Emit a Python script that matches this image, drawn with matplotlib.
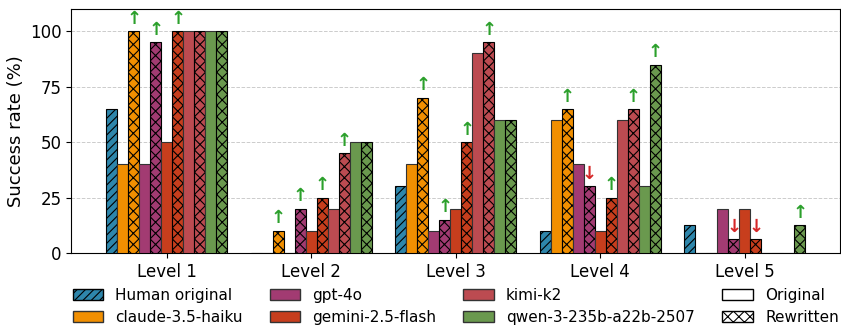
import numpy as np
import matplotlib.pyplot as plt
from matplotlib.patches import Patch

levels = ["Level 1", "Level 2", "Level 3", "Level 4", "Level 5"]
human = [65, 0, 30, 10, 12.5]

models = ["claude-3.5-haiku", "gpt-4o", "gemini-2.5-flash", "kimi-k2", "qwen-3-235b-a22b-2507"]
original = {
    "claude-3.5-haiku": [40, 0, 40, 60, 0],
    "gpt-4o": [40, 0, 10, 40, 20],
    "gemini-2.5-flash": [50, 10, 20, 10, 20],
    "kimi-k2": [100, 20, 90, 60, 0],
    "qwen-3-235b-a22b-2507": [100, 50, 60, 30, 0],
}
rewritten = {
    "claude-3.5-haiku": [100, 10, 70, 65, 0],
    "gpt-4o": [95, 20, 15, 30, 6.25],
    "gemini-2.5-flash": [100, 25, 50, 25, 6.25],
    "kimi-k2": [100, 45, 95, 65, 0],
    "qwen-3-235b-a22b-2507": [100, 50, 60, 85, 12.5],
}
colors = {
    "claude-3.5-haiku": "#F18F01",
    "gpt-4o": "#A23B72",
    "gemini-2.5-flash": "#C73E1D",
    "kimi-k2": "#BC4B51",
    "qwen-3-235b-a22b-2507": "#6A994E",
}
human_color = "#2E86AB"

plt.rcParams["hatch.linewidth"] = 0.8

fig, ax = plt.subplots(figsize=(8.41, 3.26), dpi=100)
fig.subplots_adjust(left=0.085, right=0.999, bottom=0.224, top=0.972)

x = np.arange(len(levels))
w = 0.076

ax.bar(x - 5 * w, human, w, color=human_color, edgecolor="black",
       linewidth=0.8, hatch="////", zorder=3)

for i, m in enumerate(models):
    pos_o = x + (-4 + 2 * i) * w
    pos_r = pos_o + w
    ax.bar(pos_o, original[m], w, color=colors[m], edgecolor="#333333",
           linewidth=0.8, zorder=3)
    ax.bar(pos_r, rewritten[m], w, color=colors[m], edgecolor="black",
           linewidth=0.8, hatch="xxx", zorder=3)
    # arrows showing change after rewriting
    for j in range(len(levels)):
        o, r = original[m][j], rewritten[m][j]
        if r > o:
            ax.text(pos_r[j], r + 1.5, "↑", color="#2CA02C", ha="center",
                    va="bottom", fontsize=13, fontweight="bold")
        elif r < o:
            ax.text(pos_r[j], r + 1.5, "↓", color="#D62728", ha="center",
                    va="bottom", fontsize=13, fontweight="bold")

ax.set_xticks(x)
ax.set_xticklabels(levels, fontsize=12)
ax.set_ylim(0, 110)
ax.set_yticks([0, 25, 50, 75, 100])
ax.tick_params(axis="y", labelsize=12)
ax.set_ylabel("Success rate (%)", fontsize=13)
ax.grid(axis="y", linestyle="--", color="#cccccc", linewidth=0.7, zorder=0)
ax.set_axisbelow(True)

model_handles = [Patch(facecolor=human_color, edgecolor="black", hatch="////",
                       label="Human original")]
for m in models:
    model_handles.append(Patch(facecolor=colors[m], edgecolor="#333333", label=m))
fig.legend(handles=model_handles, loc="lower left", ncol=3,
           bbox_to_anchor=(0.070, -0.038), frameon=False, fontsize=11,
           handlelength=2.0, columnspacing=1.75, labelspacing=0.45)

style_handles = [Patch(facecolor="white", edgecolor="black", label="Original"),
                 Patch(facecolor="white", edgecolor="black", hatch="xxx",
                       label="Rewritten")]
fig.legend(handles=style_handles, loc="lower right", ncol=1,
           bbox_to_anchor=(1.014, -0.038), frameon=False, fontsize=11,
           handlelength=2.0, labelspacing=0.45)

fig.savefig("out.png", dpi=100)
